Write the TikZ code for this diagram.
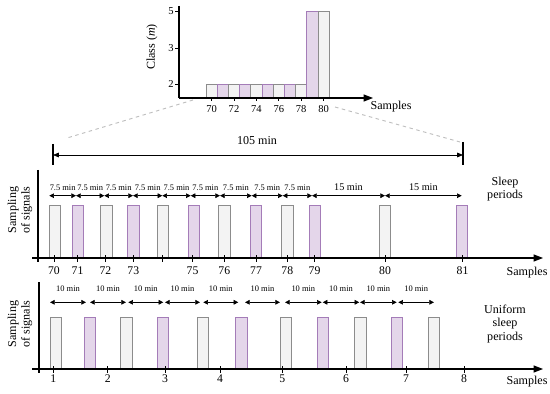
\documentclass[tikz,border=0pt]{standalone}
\usepackage{fontspec}
\setmainfont{Liberation Serif}
\usetikzlibrary{arrows.meta}
\definecolor{barpurple}{HTML}{E4D6EA}
\definecolor{edgepurple}{HTML}{A47CB8}
\definecolor{bargray}{HTML}{F3F3F3}
\definecolor{edgegray}{HTML}{8C8C8C}
\tikzset{
  graybar/.style={draw=edgegray, fill=bargray, line width=0.6pt},
  purplebar/.style={draw=edgepurple, fill=barpurple, line width=0.6pt},
  axisline/.style={line width=0.9pt, -{Triangle[length=8pt, width=6pt]}},
  spanarrow/.style={line width=0.6pt,
    {Triangle[length=4pt, width=4pt]}-{Triangle[length=4pt, width=4pt]}},
  ticklabel/.style={font=\fontsize{10}{11}\selectfont, inner sep=1pt},
  minlabel/.style={font=\fontsize{7.2}{8}\selectfont, inner sep=0.5pt},
  sidelabel/.style={font=\fontsize{10.3}{11.5}\selectfont, align=center, inner sep=1pt},
}
\begin{document}
\begin{tikzpicture}[x=0.03cm, y=-0.03cm]
  \useasboundingbox (0,0) rectangle (550,394);
  % ---------- Class chart (top) ----------
  \coordinate (cTop) at (179,6);
  \coordinate (cOrig) at (179,98);
  \coordinate (cEnd) at (373,98);
  \foreach \i/\s in {0/graybar,1/purplebar,2/graybar,3/purplebar,4/graybar,
                     5/purplebar,6/graybar,7/purplebar,8/graybar}
    \draw[\s] ({206+11.2*\i},98) rectangle ({217.2+11.2*\i},84);
  \draw[purplebar] (306.8,98) rectangle (318,11);
  \draw[graybar] (318,98) rectangle (329.2,11);
  \draw[line width=0.9pt] (cTop) -- (cOrig);
  \draw[axisline] (cOrig) -- (cEnd);
  % y ticks
  \foreach \yy/\c in {11/5, 48/3, 84/2} {
    \draw[line width=0.8pt] (175,\yy) -- (179,\yy);
    \node[ticklabel, font=\fontsize{9}{10}\selectfont, anchor=east] (cl\c) at (175,\yy) {\c};
  }
  % x ticks
  \foreach \i/\n in {0/70,2/72,4/74,6/76,8/78,10/80} {
    \draw[line width=0.8pt] ({211.6+11.2*\i},98) -- ({211.6+11.2*\i},101.5);
    \node[ticklabel, font=\fontsize{9}{10}\selectfont] (cs\n) at ({211.6+11.2*\i},109) {\n};
  }
  \node[sidelabel, rotate=90] (classlab) at (152,47) {Class (\textit{m})};
  \node[sidelabel] (topsamples) at (391,107) {Samples};
  % Zoom lines
  \draw[gray!50, dashed, line width=0.8pt] (193,100) -- (67,138);
  \draw[gray!50, dashed, line width=0.8pt] (335,107) -- (460,142);
  % ---------- 105 min span ----------
  \coordinate (spanL) at (53,155);
  \coordinate (spanR) at (463,155);
  \draw[line width=1pt] (53,144) -- (53,165);
  \draw[line width=1pt] (463,142) -- (463,165);
  \draw[line width=0.7pt, {Triangle[length=5pt, width=4pt]}-{Triangle[length=5pt, width=4pt]}]
    (spanL) -- (spanR);
  \node[sidelabel] (spanlab) at (257,141) {105 min};
  % ---------- Sleep periods (middle) ----------
  \coordinate (mTop) at (38,170);
  \coordinate (mBot) at (38,262);
  \coordinate (mStart) at (32,258);
  \coordinate (mEnd) at (543,258);
  \foreach \cx/\s in {55/graybar,77.7/purplebar,106.3/graybar,133.3/purplebar,
                      163/graybar,193.7/purplebar,224.3/graybar,255.7/purplebar,
                      287.3/graybar,315/purplebar,385/graybar,461.7/purplebar}
    \draw[\s] ({\cx-5.8},258) rectangle ({\cx+5.8},205.7);
  \draw[line width=0.9pt] (mTop) -- (mBot);
  \draw[axisline] (mStart) -- (mEnd);
  \foreach \cx/\n in {54/70,77.5/71,105.5/72,133.3/73,162.5/,192.5/75,224.3/76,
                      256/77,287.3/78,314.5/79,385/80,462.5/81} {
    \draw[line width=0.8pt] (\cx,255) -- (\cx,261.5);
    \node[ticklabel] at (\cx,271) {\n};
  }
  \foreach \a/\b/\t in {49.3/76/7.5 min,76/104.3/7.5 min,104.3/133/7.5 min,
                        133/162.3/7.5 min,162.3/190.7/7.5 min,190.7/220/7.5 min,
                        220/251.7/7.5 min,251.7/282.7/7.5 min,282.7/312/7.5 min} {
    \draw[spanarrow] (\a,195.7) -- (\b,195.7);
    \node[minlabel] at ({(\a+\b)/2},187.3) {\t};
  }
  \foreach \a/\b in {312/385, 385/461.7} {
    \draw[spanarrow] (\a,195.7) -- (\b,195.7);
    \node[sidelabel, font=\fontsize{8.7}{9}\selectfont] at ({(\a+\b)/2},186.7) {15 min};
  }
  \node[sidelabel, rotate=90] (msig) at (20,210) {Sampling\\of signals};
  \node[sidelabel] (msleep) at (505,189) {Sleep\\periods};
  \node[sidelabel] (msamples) at (527,273) {Samples};
  % ---------- Uniform sleep periods (bottom) ----------
  \coordinate (bTop) at (39,282);
  \coordinate (bBot) at (39,373);
  \coordinate (bStart) at (32,369);
  \coordinate (bEnd) at (543,369);
  \foreach \l/\s in {50/graybar,84/purplebar,120.7/graybar,157.3/purplebar,
                     197.3/graybar,235.7/purplebar,280/graybar,317.3/purplebar,
                     354.7/graybar,391.3/purplebar,428/graybar}
    \draw[\s] (\l,369) rectangle ({\l+11.5},317.7);
  \draw[line width=0.9pt] (bTop) -- (bBot);
  \draw[axisline] (bStart) -- (bEnd);
  \foreach \cx/\n in {53.3/1,107.7/2,165/3,220/4,282.3/5,346/6,406/7,464/8} {
    \draw[line width=0.8pt] (\cx,366) -- (\cx,372.5);
    \node[ticklabel] at (\cx,379) {\n};
  }
  \foreach \a/\b in {50/86,90/126,128.3/163.3,165/200,203.3/238.3,245/280,
                     285/321.7,322.7/359.3,360/396.7,398.3/434} {
    \draw[spanarrow] (\a,302.3) -- (\b,302.3);
    \node[minlabel] at ({(\a+\b)/2},288.3) {10 min};
  }
  \node[sidelabel, rotate=90] (bsig) at (20,324) {Sampling\\of signals};
  \node[sidelabel] (buni) at (505,324) {Uniform\\sleep\\periods};
  \node[sidelabel] (bsamples) at (527,382) {Samples};
\end{tikzpicture}
\end{document}
